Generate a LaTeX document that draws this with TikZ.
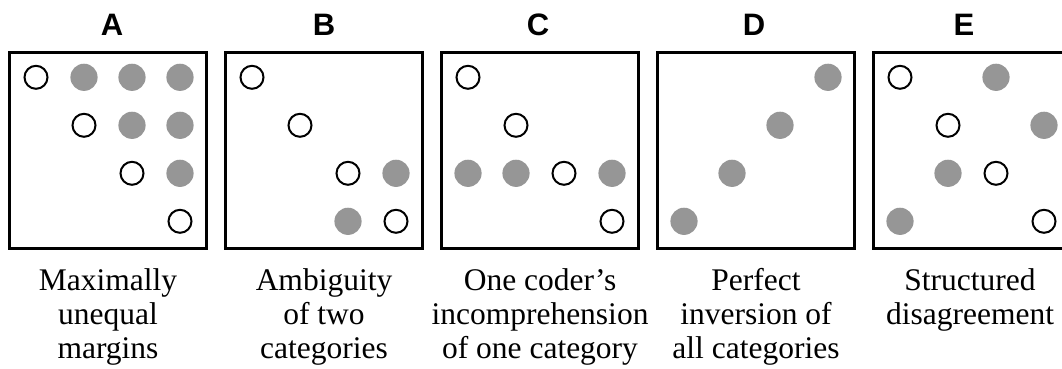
\documentclass[tikz,border=0pt]{standalone}
\usepackage{fontspec}
\setmainfont{Liberation Serif}
\newfontfamily\headfont{Liberation Sans}
\definecolor{dotgray}{RGB}{150,150,150}
% dots of one panel, given as column/row pairs on a 4x4 grid
\newcommand\opendots[1]{\foreach \c/\r in {#1} \draw[opendot] (36+48*\c, 77.3+48*\r) circle[radius=11.5];}
\newcommand\filldots[1]{\foreach \c/\r in {#1} \fill[filldot] (36+48*\c, 77.3+48*\r) circle[radius=13.6];}
\begin{document}
\begin{tikzpicture}[x=1pt,y=-1pt,
  panel/.style={draw, line width=2.7pt},
  opendot/.style={draw, line width=2pt, fill=white},
  filldot/.style={fill=dotgray},
  title/.style={font=\headfont\bfseries\fontsize{31}{34}\selectfont, anchor=base, inner sep=0pt},
  caption/.style={font=\fontsize{31.5}{34}\selectfont, align=center, anchor=base, inner sep=0pt}]
\useasboundingbox (0,0) rectangle (1062,369);
\clip (0,0) rectangle (1062,369);

% captions are placed by the baseline of their last line

% A: maximally unequal margins
\begin{scope}[xshift=0pt]
  \draw[panel] (9.5,52.5) rectangle ++(197,196);
  \filldots{1/0,2/0,3/0,2/1,3/1,3/2}
  \opendots{0/0,1/1,2/2,3/3}
  \node[title] (tA) at (112,36) {A};
  \node[caption] (cA) at (108,358) {Maximally\\unequal\\margins};
\end{scope}

% B: ambiguity of two categories
\begin{scope}[xshift=216pt]
  \draw[panel] (9.5,52.5) rectangle ++(197,196);
  \filldots{3/2,2/3}
  \opendots{0/0,1/1,2/2,3/3}
  \node[title] (tB) at (108,36) {B};
  \node[caption] (cB) at (108,358) {Ambiguity\\of two\\categories};
\end{scope}

% C: one coder's incomprehension of one category
\begin{scope}[xshift=432pt]
  \draw[panel] (9.5,52.5) rectangle ++(197,196);
  \filldots{0/2,1/2,3/2}
  \opendots{0/0,1/1,2/2,3/3}
  \node[title] (tC) at (106,36) {C};
  \node[caption] (cC) at (108,358) {One coder’s\\incomprehension\\of one category};
\end{scope}

% D: perfect inversion of all categories
\begin{scope}[xshift=648pt]
  \draw[panel] (9.5,52.5) rectangle ++(197,196);
  \filldots{3/0,2/1,1/2,0/3}
  \node[title] (tD) at (106,36) {D};
  \node[caption] (cD) at (108,358) {Perfect\\inversion of\\all categories};
\end{scope}

% E: structured disagreement
\begin{scope}[xshift=864pt]
  \draw[panel] (9.5,52.5) rectangle ++(197,196);
  \filldots{2/0,3/1,1/2,0/3}
  \opendots{0/0,1/1,2/2,3/3}
  \node[title] (tE) at (100,36) {E};
  \node[caption] (cE) at (106,324) {Structured\\disagreement};
\end{scope}
\end{tikzpicture}
\end{document}
